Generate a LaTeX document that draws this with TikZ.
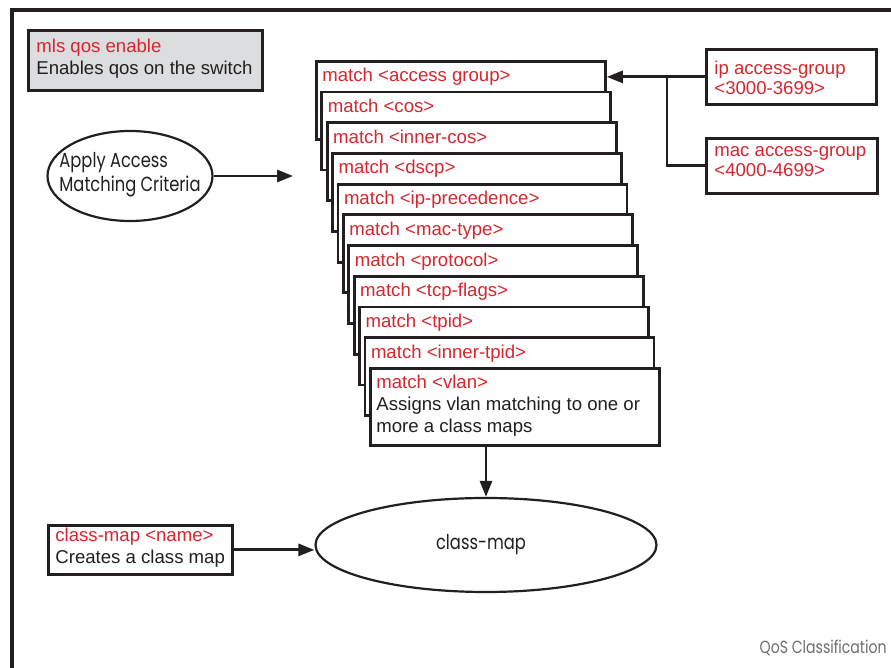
\documentclass[tikz,border=0pt]{standalone}
\usepackage{fontspec}
\setmainfont{Liberation Sans}
\newfontfamily\geofont[FakeStretch=0.8]{Poppins}
\usepackage{xcolor}
\usetikzlibrary{arrows.meta, shapes.geometric}

\definecolor{cmdred}{HTML}{D7262E}
\definecolor{inkblack}{HTML}{231F20}
\definecolor{panelgray}{HTML}{DCDDDE}
\definecolor{capgray}{HTML}{6D6E71}

\begin{document}
\begin{tikzpicture}[>={Triangle[length=8pt, width=6pt]}, x=0.5pt, y=-0.5pt,
    every node/.style={font=\fontsize{9.3}{11}\selectfont, text=inkblack},
    cmdbox/.style={draw=inkblack, line width=1.4pt, fill=white, anchor=north west, inner sep=0pt},
    cmdtext/.style={anchor=north west, align=left, inner sep=0pt},
    oval/.style={draw=inkblack, ellipse, line width=1.1pt, inner sep=0pt},
    flow/.style={->, draw=inkblack, line width=1.4pt}]
    \useasboundingbox (0,0) rectangle (891,668);

    % Frame
    \draw[inkblack, line width=1.6pt] (12,700) -- (12,10) -- (920,10);

    % Global command
    \node[cmdbox, fill=panelgray, minimum width=117pt, minimum height=30pt] (qos) at (27,29) {};
    \node[cmdtext] at ([shift={(9,10)}]qos.north west) {\textcolor{cmdred}{mls qos enable}\\Enables qos on the switch};

    % Apply criteria
    \node[oval, minimum width=82.5pt, minimum height=45pt] (apply) at (130,176) {};
    \node[align=left, inner sep=0pt, font=\geofont\fontsize{10.2}{12}\selectfont] at (130,175) {Apply Access\\Matching Criteria};
    \coordinate (aim) at (293,176);

    % Match statements
    \foreach \lbl [count=\i from 0] in {access group, cos, inner-cos, dscp, ip-precedence, mac-type, protocol, tcp-flags, tpid, inner-tpid} {
        \node[cmdbox, minimum width=144.5pt, minimum height=39pt] (m\i) at (315+5.4*\i, 60+30.7*\i) {};
        \node[cmdtext, text=cmdred] at ([shift={(7,8)}]m\i.north west) {match <\lbl>};
    }
    \node[cmdbox, minimum width=144.5pt, minimum height=38.5pt] (m10) at (369,367) {};
    \node[cmdtext] at ([shift={(7,7.5)}]m10.north west) {\textcolor{cmdred}{match <vlan>}\\Assigns vlan matching to one or\\more a class maps};

    % Access groups
    \node[cmdbox, minimum width=85pt, minimum height=27.5pt] (ipacl) at (705,48) {};
    \node[cmdtext, text=cmdred] at ([shift={(9,13)}]ipacl.north west) {ip access-group\\[-1pt]<3000-3699>};
    \node[cmdbox, minimum width=85.5pt, minimum height=27.5pt] (macacl) at (705,137) {};
    \node[cmdtext, text=cmdred] at ([shift={(9,9.5)}]macacl.north west) {mac access-group\\[-1pt]<4000-4699>};
    \coordinate (join) at (667,75.5);

    % Class map
    \node[oval, minimum width=170.5pt, minimum height=47pt] (cmap) at (486,545) {};
    \node[font=\geofont\fontsize{10.2}{12}\selectfont] at (481,545) {class-map};
    \node[cmdbox, minimum width=92pt, minimum height=24.5pt] (named) at (47,524) {};
    \node[cmdtext] at ([shift={(8,4)}]named.north west) {\textcolor{cmdred}{class-map <name>}\\Creates a class map};

    % Caption
    \node[anchor=east, inner sep=0pt, text=capgray, font=\geofont\fontsize{8.8}{10}\selectfont] (cap) at (887,648) {QoS Classification};

    % Edges
    \draw[flow] (ipacl.west) -- (ipacl.west -| m0.east);
    \draw[inkblack, line width=1.4pt] (macacl.west) -| (join);
    \draw[flow] (apply.east) -- (aim);
    \draw[flow] (m10.south -| cmap.north) -- (cmap.north);
    \draw[flow] (named.east) -- (named.east -| cmap.west);
\end{tikzpicture}
\end{document}
